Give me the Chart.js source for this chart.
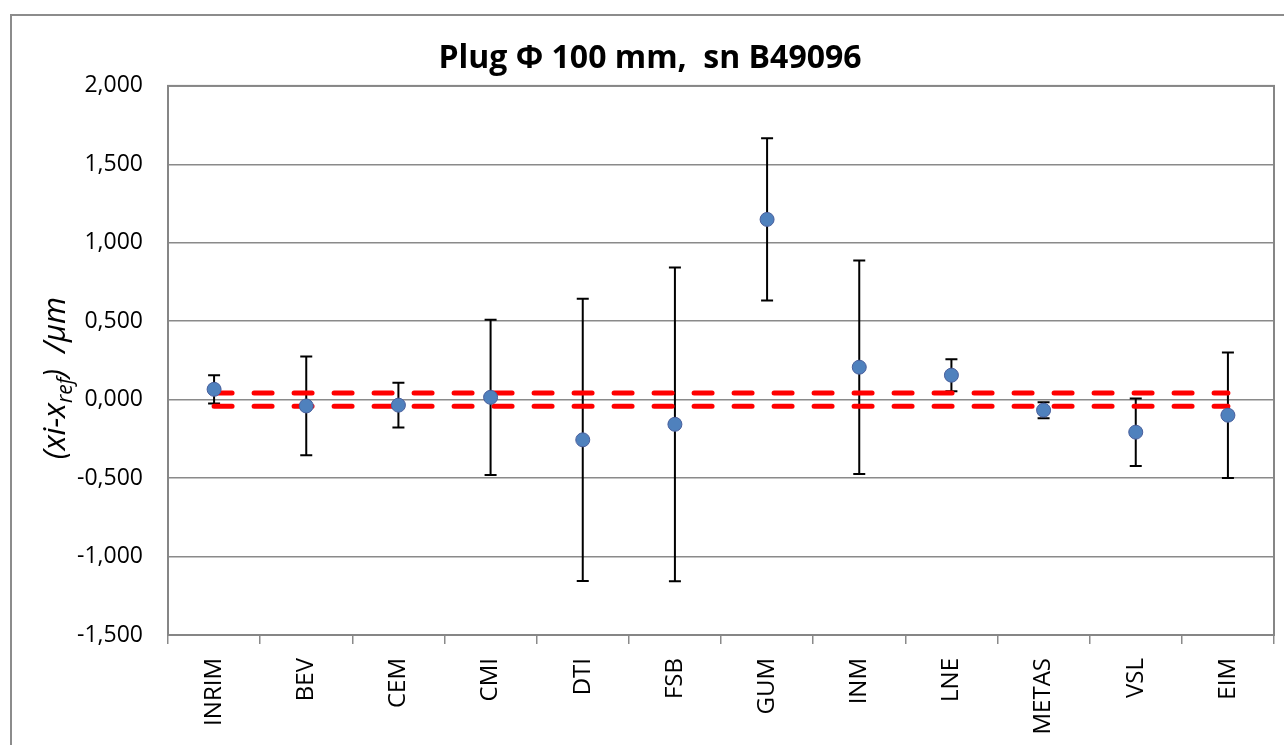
<!DOCTYPE html>
<html>
<head>
<meta charset="utf-8">
<script src="https://cdn.jsdelivr.net/npm/chart.js@4.4.1/dist/chart.umd.min.js"></script>
<style>
  body { margin: 0; background: #fff; overflow: hidden; }
  #wrap { position: absolute; left: 0; top: 0; width: 1284px; height: 745px; }
  #frame { position: absolute; left: 10px; top: 14px; width: 1400px; height: 900px;
           border: 2px solid #8c8c8c; pointer-events: none; }
</style>
</head>
<body>
<div id="wrap">
  <canvas id="plug"></canvas>
  <div id="frame"></div>
</div>
<script>
const labs = ['INRIM', 'BEV', 'CEM', 'CMI', 'DTI', 'FSB', 'GUM', 'INM', 'LNE', 'METAS', 'VSL', 'EIM'];
const dev = [0.066, -0.040, -0.035, 0.015, -0.256, -0.157, 1.149, 0.207, 0.156, -0.067, -0.207, -0.099];
const unc = [0.090, 0.315, 0.143, 0.495, 0.900, 1.000, 0.517, 0.680, 0.102, 0.051, 0.215, 0.400];
const band = 0.042;
const yTicks = [-1.5, -1.0, -0.5, 0.0, 0.5, 1.0, 1.5, 2.0];

const gridGrey = '#8a8a8a';

Chart.defaults.font.family = "'Open Sans', sans-serif";
Chart.defaults.color = '#000';

// plot frame + error bars, under the markers and the red dashes
const errBars = {
	id: 'errBars',
	beforeDatasetsDraw(chart) {
		const {ctx, chartArea: a, scales: {x, y}} = chart;
		ctx.save();
		ctx.strokeStyle = '#868686';
		ctx.lineWidth = 2;
		ctx.strokeRect(a.left, a.top, a.right - a.left, a.bottom - a.top);
		ctx.strokeStyle = '#000';
		ctx.lineWidth = 2;
		dev.forEach((v, i) => {
			const px = x.getPixelForValue(i);
			const top = y.getPixelForValue(v + unc[i]);
			const bot = y.getPixelForValue(v - unc[i]);
			ctx.beginPath();
			ctx.moveTo(px, top); ctx.lineTo(px, bot);
			ctx.moveTo(px - 6, top); ctx.lineTo(px + 6, top);
			ctx.moveTo(px - 6, bot); ctx.lineTo(px + 6, bot);
			ctx.stroke();
		});
		ctx.restore();
	}
};

// y axis title with subscript
const yTitle = {
	id: 'yTitle',
	afterDraw(chart) {
		const ctx = chart.ctx;
		const big = "italic 31px 'Open Sans', sans-serif";
		const small = "italic 21px 'Open Sans', sans-serif";
		const parts = [['(xi-x', big, 0], ['ref', small, 7], [')  /µm', big, 0]];
		ctx.save();
		let total = 0;
		parts.forEach(p => { ctx.font = p[1]; total += ctx.measureText(p[0]).width; });
		ctx.translate(65, 378);
		ctx.rotate(-Math.PI / 2);
		ctx.fillStyle = '#000';
		ctx.textBaseline = 'alphabetic';
		let cx = -total / 2;
		parts.forEach(p => {
			ctx.font = p[1];
			ctx.fillText(p[0], cx, p[2]);
			cx += ctx.measureText(p[0]).width;
		});
		ctx.restore();
	}
};

new Chart(document.getElementById('plug'), {
	type: 'line',
	data: {
		labels: labs,
		datasets: [
			{
				label: 'xi - xref',
				data: dev,
				showLine: false,
				pointRadius: 7,
				pointBorderWidth: 1,
				pointBackgroundColor: '#4F81BD',
				pointBorderColor: '#4a5f9c'
			},
			{
				label: '+U',
				data: labs.map(() => band),
				borderColor: '#FF0000',
				borderWidth: 5,
				borderDash: [18, 22],
				borderCapStyle: 'round',
				pointRadius: 0
			},
			{
				label: '-U',
				data: labs.map(() => -band),
				borderColor: '#FF0000',
				borderWidth: 5,
				borderDash: [18, 22],
				borderCapStyle: 'round',
				pointRadius: 0
			}
		]
	},
	options: {
		responsive: true,
		maintainAspectRatio: false,
		animation: false,
		events: [],
		layout: { padding: { left: 26, right: 10, top: 0, bottom: 0 } },
		plugins: {
			legend: { display: false },
			tooltip: { enabled: false },
			title: {
				display: true,
				text: 'Plug Φ 100 mm,  sn B49096',
				font: { size: 32, weight: 'bold' },
				color: '#000',
				padding: { top: 40, bottom: 7.5 }
			}
		},
		scales: {
			x: {
				offset: true,
				afterFit: (s) => { s.height = 110; },
				grid: { offset: true, drawOnChartArea: false, drawTicks: true, tickLength: 9, color: gridGrey, lineWidth: 1.5 },
				border: { color: '#868686', width: 2 },
				ticks: { maxRotation: 90, minRotation: 90, padding: 14, font: { size: 24 } }
			},
			y: {
				min: -1.5,
				max: 2.0,
				afterFit: (s) => { s.width = 142; },
				afterBuildTicks: (s) => { s.ticks = yTicks.map(v => ({ value: v })); },
				grid: { drawTicks: false, color: gridGrey, lineWidth: 1.5 },
				border: { color: '#868686', width: 2 },
				ticks: {
					padding: 25,
					font: { size: 23 },
					callback: (v) => v.toFixed(3).replace('.', ',')
				}
			}
		}
	},
	plugins: [errBars, yTitle]
});
</script>
</body>
</html>
